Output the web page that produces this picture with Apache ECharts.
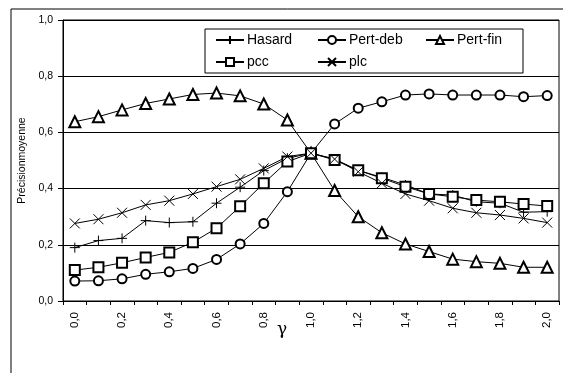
<!DOCTYPE html>
<html>
<head>
<meta charset="utf-8">
<script src="https://cdn.jsdelivr.net/npm/echarts@6/dist/echarts.min.js"></script>
<style>
html,body{margin:0;padding:0;background:#fff;}
#c{width:563px;height:373px;}
</style>
</head>
<body>
<div id="c"></div>
<script>
var categories = ['0,0','0,1','0,2','0,3','0,4','0,5','0,6','0,7','0,8','0,9','1,0','1,1','1,2','1,3','1,4','1,5','1,6','1,7','1,8','1,9','2,0'];
var hasard  = [0.190,0.215,0.223,0.286,0.279,0.282,0.348,0.405,0.464,0.508,0.526,0.505,0.465,0.440,0.413,0.381,0.377,0.353,0.348,0.316,0.318];
var pertDeb = [0.071,0.072,0.079,0.095,0.104,0.116,0.148,0.203,0.276,0.389,0.526,0.630,0.686,0.709,0.733,0.737,0.733,0.733,0.733,0.727,0.731];
var pertFin = [0.638,0.656,0.680,0.703,0.719,0.735,0.740,0.730,0.701,0.644,0.526,0.393,0.300,0.243,0.203,0.176,0.149,0.140,0.134,0.120,0.120];
var pcc     = [0.110,0.120,0.136,0.155,0.173,0.209,0.259,0.337,0.419,0.496,0.526,0.502,0.465,0.437,0.407,0.381,0.371,0.359,0.353,0.345,0.338];
var plc     = [0.276,0.291,0.314,0.342,0.357,0.381,0.407,0.433,0.472,0.514,0.526,0.505,0.460,0.419,0.381,0.357,0.330,0.314,0.306,0.294,0.279];
var seriesNames = ['Hasard','Pert-deb','Pert-fin','pcc','plc'];

var FONT = 'Liberation Sans, Arial, sans-serif';
var plusPath = 'path://M0,5L10,5M5,0L5,10';
var crossPath = 'path://M0,0L10,10M10,0L0,10';

function mkSeries(name, data, symbol, size) {
  return {
    name: name, type: 'line', data: data,
    symbol: symbol, symbolSize: size,
    showSymbol: true,
    lineStyle: {color: '#000', width: 1},
    itemStyle: {color: '#000', borderColor: '#000', borderWidth: 1},
    emphasis: {disabled: true},
    animation: false
  };
}

function mkLegend(name, left, top) {
  return {
    data: [name], left: left, top: top, padding: 0,
    itemWidth: 28, itemHeight: 10, z: 6,
    textStyle: {fontFamily: FONT, fontSize: 14, color: '#000', padding: [0,0,0,-2]},
    selectedMode: false
  };
}

var chart = echarts.init(document.getElementById('c'), null, {renderer: 'canvas'});
chart.setOption({
  backgroundColor: '#fff',
  animation: false,
  grid: {left: 63, right: 4, top: 20, bottom: 72, show: true, borderColor: '#000', borderWidth: 1},
  xAxis: {
    type: 'category', data: categories, boundaryGap: true,
    axisLine: {lineStyle: {color: '#000', width: 1}},
    axisTick: {show: true, interval: 0, length: 4, lineStyle: {color: '#000'}},
    axisLabel: {interval: 1, rotate: 90, margin: 11, fontFamily: FONT, fontSize: 11.5, color: '#000'},
    splitLine: {show: false}
  },
  yAxis: {
    type: 'value', min: 0, max: 1, interval: 0.2,
    name: 'Précisionmoyenne', nameLocation: 'middle', nameGap: 32,
    nameTextStyle: {fontFamily: FONT, fontSize: 10.5, color: '#000'},
    axisLine: {show: true, lineStyle: {color: '#000', width: 1}},
    axisTick: {show: true, length: 5, lineStyle: {color: '#000'}},
    axisLabel: {margin: 10, fontFamily: FONT, fontSize: 10.5, color: '#000',
      formatter: function (v) { return v.toFixed(1).replace('.', ','); }},
    splitLine: {show: true, lineStyle: {color: '#000', width: 1}}
  },
  legend: [
    mkLegend('Hasard', 215, 33),
    mkLegend('Pert-deb', 317, 33),
    mkLegend('Pert-fin', 425, 33),
    mkLegend('pcc', 215, 55),
    mkLegend('plc', 317, 55)
  ],
  graphic: [
    {type: 'rect', shape: {x: 11, y: 9, width: 700, height: 500}, style: {fill: 'none', stroke: '#000', lineWidth: 1}, z: -1, silent: true},
    {type: 'rect', shape: {x: 205, y: 29, width: 318, height: 44}, style: {fill: '#fff', stroke: '#000', lineWidth: 1}, z: 5, silent: true},
    {type: 'text', x: 282, y: 330, style: {text: 'γ', fontFamily: 'DejaVu Serif, serif', fontSize: 17, fill: '#000', align: 'center', verticalAlign: 'middle'}, z: 6, silent: true}
  ],
  series: [
    mkSeries(seriesNames[0], hasard, plusPath, 10),
    mkSeries(seriesNames[1], pertDeb, 'emptyCircle', 9),
    mkSeries(seriesNames[2], pertFin, 'emptyTriangle', 11),
    mkSeries(seriesNames[3], pcc, 'emptyRect', 10),
    mkSeries(seriesNames[4], plc, crossPath, 10)
  ]
});
</script>
</body>
</html>
